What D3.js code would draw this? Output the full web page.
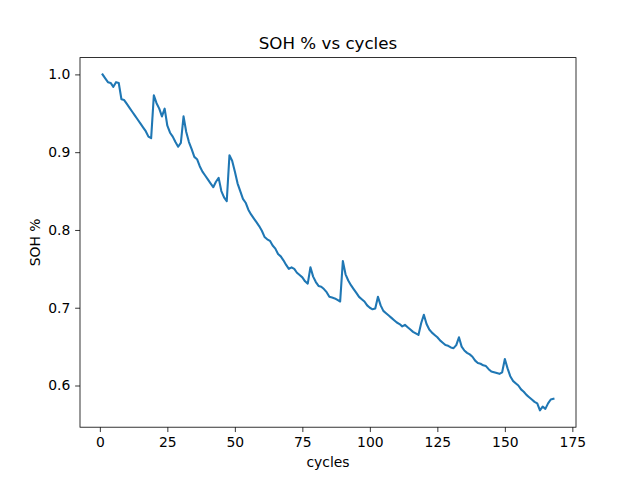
<!DOCTYPE html>
<html>
<head>
<meta charset="utf-8">
<script src="https://cdn.jsdelivr.net/npm/d3@7"></script>
<style>
  html, body { margin: 0; padding: 0; background: #fff; }
  text { font-family: "DejaVu Sans", sans-serif; fill: #000; }
</style>
</head>
<body>
<svg id="chart" width="640" height="480"></svg>
<script>
const title = "SOH % vs cycles";
const xLabel = "cycles";
const yLabel = "SOH %";
const cycles = d3.range(1, 169);
const soh = [
  1.000, 0.995, 0.990, 0.989, 0.984, 0.990, 0.989, 0.968, 0.967, 0.962,
  0.957, 0.952, 0.947, 0.942, 0.937, 0.932, 0.927, 0.920, 0.918, 0.973,
  0.963, 0.956, 0.946, 0.956, 0.934, 0.925, 0.920, 0.913, 0.907, 0.912,
  0.946, 0.926, 0.913, 0.904, 0.894, 0.891, 0.882, 0.875, 0.870, 0.865,
  0.860, 0.855, 0.862, 0.867, 0.850, 0.842, 0.837, 0.896, 0.889, 0.875,
  0.860, 0.850, 0.840, 0.835, 0.826, 0.820, 0.815, 0.810, 0.805, 0.799,
  0.791, 0.788, 0.786, 0.780, 0.776, 0.769, 0.766, 0.761, 0.755, 0.750,
  0.752, 0.750, 0.745, 0.742, 0.739, 0.734, 0.731, 0.752, 0.740, 0.733,
  0.728, 0.727, 0.724, 0.720, 0.714, 0.713, 0.712, 0.710, 0.708, 0.760,
  0.743, 0.735, 0.729, 0.724, 0.719, 0.714, 0.711, 0.708, 0.703, 0.700,
  0.698, 0.699, 0.714, 0.703, 0.696, 0.693, 0.690, 0.687, 0.684, 0.681,
  0.679, 0.676, 0.678, 0.675, 0.672, 0.669, 0.667, 0.665, 0.680, 0.691,
  0.679, 0.672, 0.668, 0.665, 0.662, 0.658, 0.655, 0.652, 0.651, 0.649,
  0.648, 0.652, 0.662, 0.650, 0.645, 0.642, 0.640, 0.637, 0.632, 0.629,
  0.628, 0.626, 0.625, 0.621, 0.618, 0.617, 0.616, 0.615, 0.617, 0.634,
  0.622, 0.612, 0.606, 0.603, 0.600, 0.595, 0.592, 0.588, 0.585, 0.582,
  0.579, 0.577, 0.568, 0.573, 0.570, 0.577, 0.582, 0.583
];
const xTicks = [0, 25, 50, 75, 100, 125, 150, 175];
const yTicks = [0.6, 0.7, 0.8, 0.9, 1.0];

const W = 640, H = 480;
const m = { left: 80, right: 576, top: 57.6, bottom: 427.2 };
const svg = d3.select("#chart");

const xMin = d3.min(cycles), xMax = d3.max(cycles);
const xPad = (xMax - xMin) * 0.05;
const yMin = d3.min(soh), yMax = d3.max(soh);
const yPad = (yMax - yMin) * 0.05;

const x = d3.scaleLinear().domain([xMin - xPad, xMax + xPad]).range([m.left, m.right]);
const y = d3.scaleLinear().domain([yMin - yPad, yMax + yPad]).range([m.bottom, m.top]);

const data = cycles.map((c, i) => ({ c, v: soh[i] }));

svg.append("path")
  .datum(data)
  .attr("fill", "none")
  .attr("stroke", "#1f77b4")
  .attr("stroke-width", 2.08)
  .attr("stroke-linejoin", "round")
  .attr("stroke-linecap", "square")
  .attr("d", d3.line().x(d => x(d.c)).y(d => y(d.v)));

const xAxis = svg.append("g")
  .attr("transform", `translate(0,${m.bottom})`)
  .call(d3.axisBottom(x).tickValues(xTicks).tickFormat(d3.format("d")).tickSizeInner(4.86).tickSizeOuter(0).tickPadding(4.86));
const yAxis = svg.append("g")
  .attr("transform", `translate(${m.left},0)`)
  .call(d3.axisLeft(y).tickValues(yTicks).tickFormat(d3.format(".1f")).tickSizeInner(4.86).tickSizeOuter(0).tickPadding(4.86));

[xAxis, yAxis].forEach(g => {
  g.select(".domain").remove();
  g.selectAll(".tick line").attr("stroke", "#000").attr("stroke-width", 0.8);
  g.selectAll(".tick text").attr("font-family", "DejaVu Sans").attr("font-size", 13.9).attr("fill", "#000");
});

svg.append("rect")
  .attr("x", m.left).attr("y", m.top)
  .attr("width", m.right - m.left).attr("height", m.bottom - m.top)
  .attr("fill", "none").attr("stroke", "#000").attr("stroke-width", 0.8);

svg.append("text")
  .attr("x", (m.left + m.right) / 2).attr("y", 49)
  .attr("text-anchor", "middle").attr("font-size", 16.7)
  .text(title);

svg.append("text")
  .attr("x", (m.left + m.right) / 2).attr("y", 467)
  .attr("text-anchor", "middle").attr("font-size", 13.9)
  .text(xLabel);

svg.append("text")
  .attr("transform", `translate(40,${(m.top + m.bottom) / 2}) rotate(-90)`)
  .attr("text-anchor", "middle").attr("font-size", 13.9)
  .text(yLabel);
</script>
</body>
</html>
